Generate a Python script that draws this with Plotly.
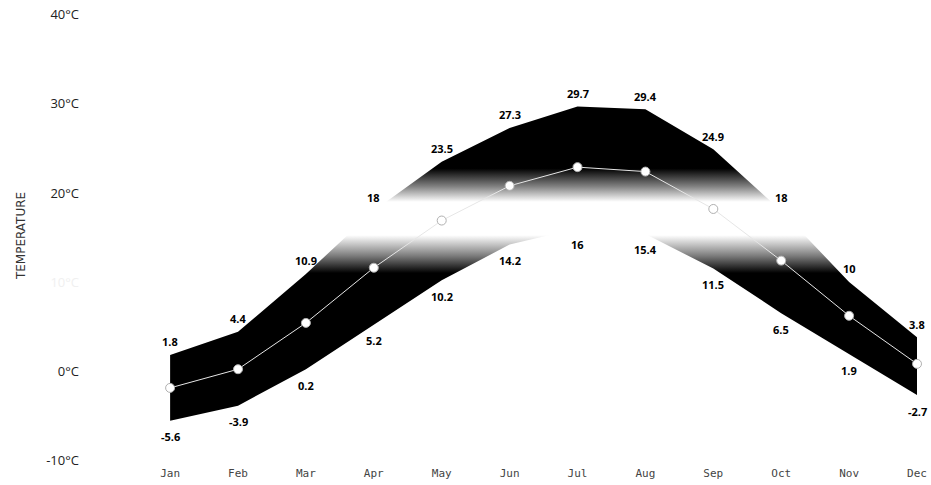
import plotly.graph_objects as go

months = ["Jan", "Feb", "Mar", "Apr", "May", "Jun", "Jul", "Aug", "Sep", "Oct", "Nov", "Dec"]
t_max = [1.8, 4.4, 10.9, 18, 23.5, 27.3, 29.7, 29.4, 24.9, 18, 10, 3.8]
t_min = [-5.6, -3.9, 0.2, 5.2, 10.2, 14.2, 16, 15.4, 11.5, 6.5, 1.9, -2.7]
t_avg = [-1.9, 0.2, 5.4, 11.6, 16.9, 20.8, 22.9, 22.4, 18.2, 12.4, 6.2, 0.8]
y_ticks = [-10, 0, 10, 20, 30, 40]
y_tick_text = ["-10°C", "0°C", "<span style='color:#f0f0f0'>10°C</span>", "20°C", "30°C", "40°C"]

xi = list(range(len(months)))

fig = go.Figure()

# range band (max forward, min backward)
fig.add_trace(go.Scatter(
    x=xi + xi[::-1],
    y=t_max + t_min[::-1],
    fill="toself",
    mode="lines",
    line=dict(width=0, color="rgba(0,0,0,0)"),
    fillgradient=dict(
        type="vertical",
        start=-10, stop=40,
        colorscale=[
            [0.0, "#000000"],
            [0.42, "#000000"],
            [0.46, "#808080"],
            [0.505, "#ffffff"],
            [0.58, "#ffffff"],
            [0.615, "#808080"],
            [0.655, "#000000"],
            [1.0, "#000000"],
        ],
    ),
    hoverinfo="skip",
    showlegend=False,
))

# average line
fig.add_trace(go.Scatter(
    x=xi, y=t_avg,
    mode="lines+markers",
    line=dict(color="#e6e6e6", width=1),
    marker=dict(size=9, color="#ffffff", line=dict(color="#b0b0b0", width=1)),
    cliponaxis=False,
    showlegend=False,
))

for i in xi:
    fig.add_annotation(x=i, y=t_max[i], text=f"<b>{t_max[i]:g}</b>", showarrow=False,
                       yshift=13, font=dict(size=11, color="#000000", family="Open Sans"))
    fig.add_annotation(x=i, y=t_min[i], text=f"<b>{t_min[i]:g}</b>", showarrow=False,
                       yshift=-16, font=dict(size=11, color="#000000", family="Open Sans"))

fig.update_layout(
    width=931, height=485,
    margin=dict(l=90, r=14, t=6, b=20),
    paper_bgcolor="white", plot_bgcolor="white",
    font=dict(family="Open Sans", color="#333333"),
)
fig.update_xaxes(
    tickvals=xi, ticktext=months, range=[-1.18, 11.0],
    showgrid=False, zeroline=False, showline=False, automargin=False,
    ticklabeloverflow="allow",
    tickfont=dict(family="DejaVu Sans Mono", size=11, color="#444444"),
)
fig.update_yaxes(
    tickvals=y_ticks, ticktext=y_tick_text, range=[-10.56, 41.0],
    showgrid=False, zeroline=False, showline=False, automargin=False,
    ticklabelstandoff=10, ticklabeloverflow="allow",
    tickfont=dict(family="Open Sans", size=13, color="#222222"),
    title=dict(text="TEMPERATURE", font=dict(family="DejaVu Sans", size=12, color="#333333"), standoff=17),
)

fig.write_html(
    "out.html",
    config={"displayModeBar": False},
    post_script="document.body.style.margin='0';document.body.style.overflow='hidden';",
)
